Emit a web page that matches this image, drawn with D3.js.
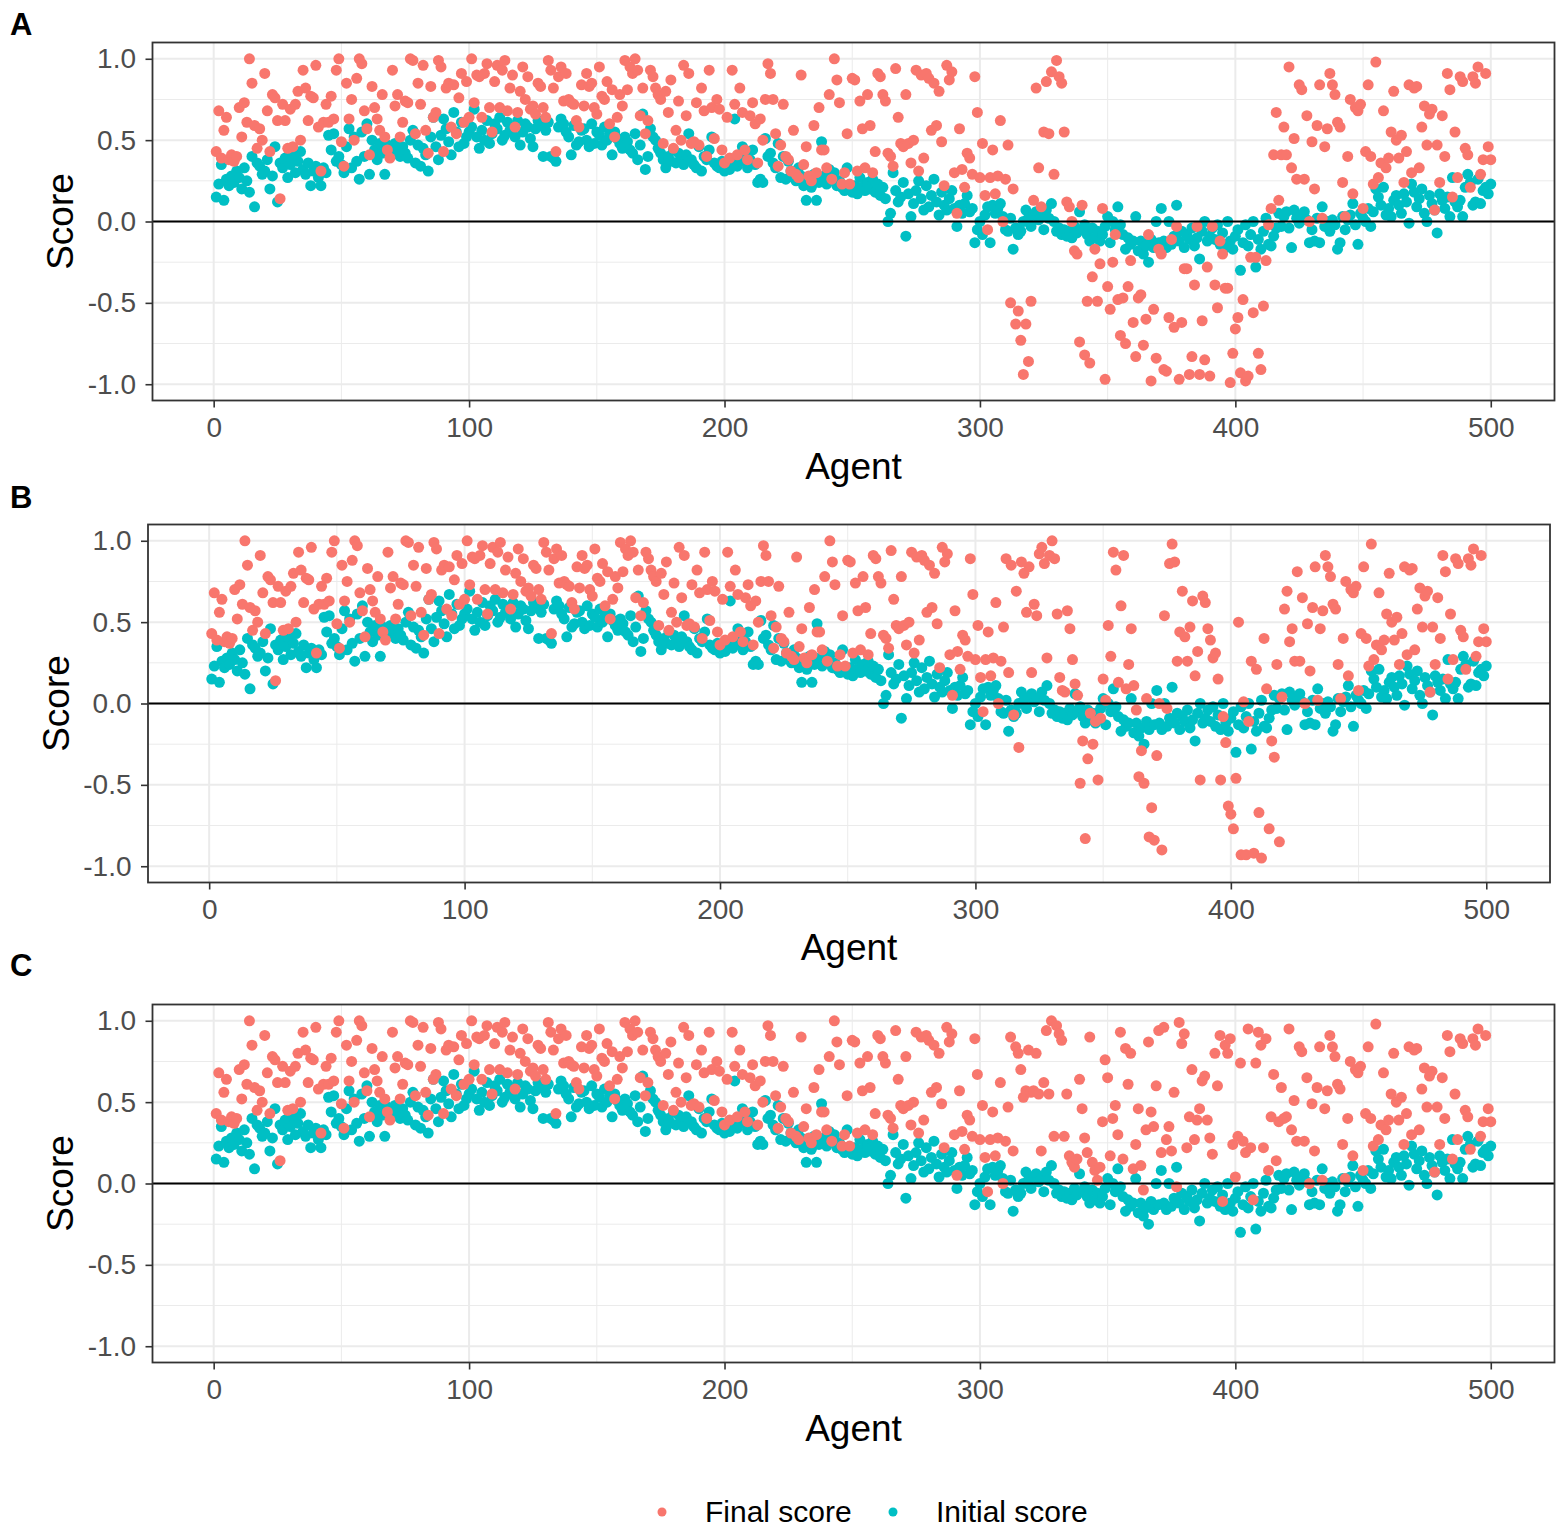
<!DOCTYPE html>
<html>
<head>
<meta charset="utf-8">
<script src="https://cdn.jsdelivr.net/npm/d3@7"></script>
<style>
body { margin: 0; background: #ffffff; }
svg text { font-family: "Liberation Sans", Arial, sans-serif; }
</style>
</head>
<body>
<svg id="chart" width="1562" height="1529"></svg>
<script>
// initial score of agents 1..500 (same in all three panels)
var initialScore = [
  0.15, 0.23, 0.35, 0.13, 0.26, 0.22, 0.28, 0.24, 0.31, 0.27,
  0.20, 0.33, 0.25, 0.18, 0.40, 0.09, 0.36, 0.34, 0.29, 0.31,
  0.38, 0.20, 0.28, 0.46, 0.12, 0.36, 0.33, 0.39, 0.27, 0.35,
  0.41, 0.30, 0.37, 0.43, 0.32, 0.29, 0.36, 0.22, 0.31, 0.34,
  0.27, 0.22, 0.33, 0.30, 0.53, 0.44, 0.54, 0.37, 0.40, 0.35,
  0.30, 0.46, 0.57, 0.33, 0.52, 0.37, 0.26, 0.55, 0.40, 0.60,
  0.29, 0.50, 0.44, 0.38, 0.48, 0.42, 0.29, 0.47, 0.44, 0.45,
  0.48, 0.43, 0.40, 0.46, 0.42, 0.39, 0.50, 0.56, 0.36, 0.47,
  0.34, 0.45, 0.41, 0.31, 0.52, 0.64, 0.46, 0.38, 0.53, 0.63,
  0.57, 0.49, 0.41, 0.67, 0.55, 0.46, 0.61, 0.48, 0.52, 0.55,
  0.58, 0.69, 0.52, 0.45, 0.56, 0.50, 0.62, 0.48, 0.54, 0.60,
  0.57, 0.64, 0.50, 0.53, 0.61, 0.56, 0.58, 0.52, 0.62, 0.47,
  0.55, 0.60, 0.58, 0.51, 0.46, 0.57, 0.62, 0.59, 0.40, 0.56,
  0.61, 0.40, 0.39, 0.37, 0.58, 0.63, 0.60, 0.55, 0.52, 0.41,
  0.59, 0.47, 0.49, 0.56, 0.57, 0.50, 0.46, 0.60, 0.48, 0.55,
  0.53, 0.47, 0.58, 0.50, 0.54, 0.41, 0.55, 0.51, 0.48, 0.45,
  0.52, 0.49, 0.44, 0.42, 0.54, 0.38, 0.47, 0.66, 0.32, 0.40,
  0.57, 0.52, 0.50, 0.45, 0.42, 0.38, 0.33, 0.40, 0.37, 0.44,
  0.36, 0.42, 0.39, 0.35, 0.41, 0.54, 0.38, 0.35, 0.33, 0.46,
  0.31, 0.40, 0.38, 0.44, 0.52, 0.36, 0.34, 0.33, 0.37, 0.31,
  0.35, 0.32, 0.36, 0.63, 0.34, 0.37, 0.46, 0.40, 0.33, 0.38,
  0.44, 0.35, 0.24, 0.26, 0.24, 0.51, 0.40, 0.42, 0.36, 0.33,
  0.48, 0.27, 0.40, 0.26, 0.37, 0.31, 0.27, 0.25, 0.33, 0.28,
  0.22, 0.13, 0.26, 0.21, 0.29, 0.13, 0.24, 0.49, 0.28, 0.23,
  0.32, 0.26, 0.30, 0.22, 0.25, 0.21, 0.19, 0.33, 0.20, 0.18,
  0.22, 0.17, 0.27, 0.21, 0.19, 0.24, 0.20, 0.26, 0.18, 0.23,
  0.16, 0.21, 0.14, 0.00, 0.05, 0.30, 0.19, 0.12, 0.15, 0.24,
  -0.09, 0.17, 0.03, 0.11, 0.19, 0.25, 0.14, 0.07, 0.22, 0.09,
  0.16, 0.26, 0.12, 0.04, 0.18, 0.10, 0.07, 0.14, 0.19, 0.08,
  -0.03, 0.10, 0.05, 0.11, 0.16, 0.06, 0.08, -0.13, -0.05, 0.00,
  -0.08, 0.04, 0.09, -0.13, 0.10, 0.05, 0.08, 0.11, 0.03, -0.05,
  -0.06, 0.02, -0.17, -0.04, -0.08, -0.06, 0.00, 0.07, 0.02, -0.03,
  0.04, 0.06, 0.01, 0.03, -0.05, 0.07, 0.02, 0.11, 0.00, -0.06,
  -0.04, -0.08, -0.05, -0.09, -0.06, -0.10, -0.03, -0.07, 0.06, -0.05,
  -0.02, -0.08, -0.12, -0.04, -0.10, -0.06, -0.12, -0.08, -0.03, 0.03,
  -0.13, 0.00, -0.05, 0.09, -0.02, -0.08, -0.17, -0.10, -0.14, -0.12,
  0.03, -0.18, -0.12, -0.20, -0.15, -0.25, -0.11, -0.16, 0.00, -0.13,
  0.08, -0.12, -0.16, 0.00, -0.14, -0.09, 0.10, -0.12, -0.06, -0.16,
  -0.08, -0.11, -0.04, -0.15, -0.10, -0.23, -0.06, 0.00, -0.12, -0.09,
  -0.04, -0.11, -0.02, -0.14, -0.07, -0.16, 0.00, -0.12, -0.17, -0.09,
  -0.05, -0.30, -0.13, -0.02, -0.15, -0.08, 0.00, -0.28, -0.11, -0.17,
  -0.06, 0.02, -0.14, -0.15, -0.09, -0.04, 0.05, -0.03, 0.03, 0.06,
  -0.04, -0.16, 0.07, 0.02, -0.01, 0.04, 0.06, 0.01, -0.13, -0.05,
  -0.12, 0.02, -0.13, 0.09, -0.03, 0.00, -0.06, 0.01, -0.02, -0.17,
  -0.13, 0.03, -0.05, 0.01, 0.04, 0.11, -0.02, -0.14, 0.05, 0.02,
  0.00, 0.08, -0.03, 0.06, 0.20, 0.15, 0.10, 0.21, 0.04, 0.08,
  0.03, 0.13, 0.16, 0.10, 0.05, 0.17, 0.12, -0.01, 0.23, 0.18,
  0.09, 0.14, 0.20, 0.05, 0.00, 0.16, 0.11, 0.07, -0.07, 0.17,
  0.13, 0.08, 0.15, 0.03, 0.27, 0.12, 0.09, 0.13, 0.03, 0.21,
  0.29, 0.24, 0.10, 0.12, 0.26, 0.11, 0.19, 0.21, 0.17, 0.23
];

// final score, agents 1..310 (shared by A, B, C)
var finalHead = [
  0.43, 0.68, 0.39, 0.56, 0.64, 0.38, 0.41, 0.37, 0.40, 0.70,
  0.52, 0.73, 0.61, 1.00, 0.85, 0.59, 0.45, 0.57, 0.50, 0.91,
  0.68, 0.43, 0.78, 0.76, 0.62, 0.14, 0.72, 0.62, 0.45, 0.69,
  0.46, 0.72, 0.80, 0.50, 0.93, 0.82, 0.62, 0.77, 0.76, 0.96,
  0.58, 0.31, 0.61, 0.72, 0.61, 0.77, 0.63, 0.93, 1.00, 0.49,
  0.34, 0.85, 0.63, 0.75, 0.50, 0.88, 1.00, 0.97, 0.68, 0.57,
  0.41, 0.83, 0.70, 0.63, 0.56, 0.78, 0.52, 0.44, 0.39, 0.93,
  0.71, 0.78, 0.52, 0.61, 0.74, 0.73, 1.00, 0.99, 0.54, 0.85,
  0.72, 0.96, 0.56, 0.42, 0.83, 0.64, 0.67, 0.99, 0.95, 0.43,
  0.82, 0.85, 0.58, 0.84, 0.54, 0.76, 0.91, 0.61, 0.86, 0.64,
  1.00, 0.73, 0.90, 0.89, 0.64, 0.91, 0.97, 0.70, 0.55, 0.86,
  0.96, 0.70, 0.93, 0.99, 0.68, 0.82, 0.90, 0.58, 0.67, 0.80,
  0.95, 0.75, 0.89, 0.69, 0.71, 0.66, 0.85, 0.83, 0.70, 0.64,
  0.99, 0.93, 0.82, 0.43, 0.89, 0.95, 0.74, 0.91, 0.75, 0.73,
  0.72, 0.62, 0.58, 0.84, 0.71, 0.91, 0.83, 0.85, 0.70, 0.66,
  0.95, 0.77, 0.75, 0.86, 0.60, 0.81, 0.52, 0.64, 0.78, 0.71,
  0.99, 0.81, 0.95, 0.91, 1.00, 0.93, 0.65, 0.82, 0.54, 0.62,
  0.93, 0.89, 0.82, 0.78, 0.75, 0.48, 0.80, 0.67, 0.87, 0.45,
  0.56, 0.74, 0.50, 0.96, 0.65, 0.91, 0.48, 0.49, 0.73, 0.47,
  0.82, 0.68, 0.40, 0.93, 0.70, 0.51, 0.75, 0.69, 0.44, 0.36,
  0.64, 0.39, 0.93, 0.72, 0.41, 0.82, 0.67, 0.44, 0.38, 0.65,
  0.73, 0.60, 0.36, 0.63, 0.50, 0.75, 0.97, 0.91, 0.75, 0.54,
  0.34, 0.47, 0.72, 0.40, 0.38, 0.31, 0.56, 0.29, 0.27, 0.90,
  0.35, 0.46, 0.28, 0.25, 0.59, 0.30, 0.70, 0.44, 0.44, 0.33,
  0.78, 0.26, 1.00, 0.87, 0.73, 0.23, 0.30, 0.54, 0.23, 0.88,
  0.87, 0.31, 0.74, 0.57, 0.33, 0.78, 0.59, 0.30, 0.43, 0.91,
  0.89, 0.78, 0.74, 0.42, 0.40, 0.34, 0.94, 0.64, 0.48, 0.46,
  0.78, 0.48, 0.36, 0.50, 0.93, 0.31, 0.90, 0.39, 0.91, 0.88,
  0.56, 0.85, 0.59, 0.80, 0.49, 0.22, 0.96, 0.87, 0.92, 0.30,
  0.05, 0.57, 0.32, 0.21, 0.42, 0.39, 0.29, 0.89, 0.67, 0.27,
  0.48, 0.16, -0.05, 0.27, 0.44, 0.17, 0.28, 0.62, 0.00, 0.26
];

// final score, agents 311..425, one list per panel
var finalMidA = [
  0.47, -0.50, 0.20, -0.63, -0.55, -0.73, -0.94, -0.63, -0.86, -0.49,
  0.13, 0.82, 0.33, 0.09, 0.55, 0.86, 0.54, 0.92, 0.29, 0.99,
  0.89, 0.85, 0.55, 0.12, 0.09, 0.00, -0.18, -0.20, -0.74, 0.10,
  -0.82, -0.49, -0.87, -0.34, -0.17, -0.49, -0.26, 0.08, -0.97, -0.40,
  -0.54, -0.25, -0.08, -0.48, -0.70, -0.47, -0.75, -0.40, -0.24, -0.62,
  -0.83, -0.47, -0.45, -0.76, -0.60, -0.08, -0.98, -0.54, -0.84, -0.17,
  -0.20, -0.91, -0.92, -0.59, -0.11, -0.65, -0.03, -0.97, -0.62, -0.29,
  -0.29, -0.94, -0.83, -0.39, -0.03, -0.94, -0.61, -0.85, -0.28, -0.95,
  -0.03, -0.39, -0.53, -0.12, -0.20, -0.41, -0.41, -0.99, -0.81, -0.66,
  -0.59, -0.93, -0.48, -0.98, -0.95, -0.22, -0.56, -0.22, -0.81, -0.91,
  -0.52, -0.24, -0.02, 0.08, 0.41, 0.67, 0.13, 0.41, 0.58, 0.41,
  0.95, 0.33, 0.51, 0.26, 0.84
];
var finalMidB = [
  0.47, 0.89, 0.19, 0.85, -0.07, 0.69, -0.27, 0.87, 0.80, 0.56,
  0.84, 0.19, 0.61, 0.54, 0.92, 0.96, 0.86, 0.28, 0.91, 1.00,
  0.89, 0.55, 0.16, 0.08, 0.07, 0.57, 0.46, 0.27, 0.12, 0.05,
  -0.49, -0.23, -0.83, -0.34, -0.06, -0.25, -0.11, -0.47, -0.09, 0.15,
  0.02, 0.48, 0.29, 0.93, 0.82, 0.13, 0.60, 0.91, 0.09, 0.24,
  0.46, 0.11, -0.04, -0.45, -0.29, -0.49, 0.03, -0.82, -0.64, -0.84,
  -0.32, 0.00, -0.90, 0.54, -0.03, 0.86, 0.98, 0.87, 0.26, 0.44,
  0.69, 0.41, 0.26, 0.47, 0.63, 0.17, 0.32, -0.47, 0.66, 0.62,
  0.46, 0.39, 0.28, 0.31, 0.15, -0.47, -0.08, -0.24, -0.63, -0.68,
  -0.77, -0.46, 0.50, -0.93, 0.01, -0.93, -0.11, 0.26, -0.92, 0.21,
  -0.67, -0.95, 0.40, 0.09, -0.77, -0.23, -0.33, 0.24, -0.85, 0.04,
  0.58, 0.69, 0.38, 0.46, 0.26
];
var finalMidC = [
  0.47, 0.90, 0.20, 0.84, 0.80, 0.70, 0.53, 0.57, 0.82, 0.56,
  0.57, 0.80, 0.55, 0.20, 0.62, 0.94, 0.55, 1.00, 0.29, 0.97,
  0.92, 0.88, 0.29, 0.55, 0.17, 0.13, 0.10, 0.15, 0.64, 0.46,
  0.28, 0.19, 0.90, 0.13, 0.08, 0.02, 0.10, 0.38, 0.76, 0.65,
  0.17, 0.40, 0.48, 0.30, 0.93, 0.15, 0.83, 0.61, 0.80, 0.09,
  0.24, 0.46, 0.11, -0.04, 0.33, 0.87, 0.44, 0.35, 0.60, 0.94,
  0.19, 0.96, 0.27, 0.35, 0.20, 0.56, -0.02, 0.99, 0.86, 0.92,
  0.22, 0.41, 0.70, 0.27, 0.39, 0.46, 0.63, 0.66, 0.39, 0.28,
  0.18, 0.80, 0.60, 0.91, -0.11, 0.85, 0.80, 0.89, 0.24, 0.04,
  0.29, 0.74, 0.26, 0.19, 0.95, 0.22, -0.10, 0.74, 0.93, 0.85,
  0.22, 0.89, 0.08, 0.41, 0.67, 0.14, 0.38, 0.59, 0.40, 0.41,
  0.95, 0.33, 0.51, 0.26, 0.84
];

// final score, agents 426..500 (shared)
var finalTail = [
  0.81, 0.26, 0.65, 0.00, 0.49,
  0.20, 0.59, 0.84, 0.02, 0.46, 0.57, 0.91, 0.84, 0.78, 0.61,
  0.58, 0.24, 0.03, 0.40, 0.75, 0.17, 0.70, 0.68, 0.72, 0.08,
  0.43, 0.84, 0.40, 0.23, 0.98, 0.27, 0.36, 0.68, 0.33, 0.39,
  0.55, 0.80, 0.50, 0.39, 0.53, 0.24, 0.43, 0.84, 0.30, 0.82,
  0.83, 0.33, 0.58, 0.71, 0.47, 0.66, 0.69, 0.07, 0.47, 0.24,
  0.65, 0.40, 0.91, 0.81, 0.15, 0.55, 0.27, 0.89, 0.86, 0.45,
  0.41, 0.21, 0.89, 0.85, 0.95, 0.29, 0.38, 0.91, 0.46, 0.38
];

var xTicks = [0, 100, 200, 300, 400, 500];
var xMinor = [50, 150, 250, 350, 450];
var yTicks = [-1, -0.5, 0, 0.5, 1];
var yMinor = [-0.75, -0.25, 0.25, 0.75];
var seriesNames = ["Final score", "Initial score"];
var seriesColours = ["#F8766D", "#00BFC4"];

var svg = d3.select("#chart");
var agents = d3.range(1, initialScore.length + 1);

var panels = [
  {label: "A", mid: finalMidA, left: 152.5, top: 42.5, labelY: 35, titleY: 479, scoreX: 73},
  {label: "B", mid: finalMidB, left: 148, top: 524.5, labelY: 508, titleY: 960, scoreX: 69},
  {label: "C", mid: finalMidC, left: 152.5, top: 1004.5, labelY: 976, titleY: 1441, scoreX: 73}
];
var panelW = 1402, panelH = 358;
var pointR = 5.5;

function styleAxis(sel) {
	sel.attr("font-size", null).attr("font-family", null);
	sel.select(".domain").remove();
	sel.selectAll(".tick line").attr("stroke", "#333333").attr("stroke-width", 1.6);
	sel.selectAll(".tick text")
		.attr("fill", "#4D4D4D")
		.style("font-size", "28px");
}

panels.forEach(function(p) {
	var finals = finalHead.concat(p.mid, finalTail);
	var bottom = p.top + panelH;

	var x = d3.scaleLinear().domain([-23.95, 524.95]).range([p.left, p.left + panelW]);
	var y = d3.scaleLinear().domain([-1.1, 1.1]).range([bottom, p.top]);

	var g = svg.append("g");

	g.selectAll(".vminor").data(xMinor).enter().append("line")
		.attr("x1", function(d) { return x(d); })
		.attr("x2", function(d) { return x(d); })
		.attr("y1", p.top).attr("y2", bottom)
		.attr("stroke", "#EBEBEB").attr("stroke-width", 1);
	g.selectAll(".hminor").data(yMinor).enter().append("line")
		.attr("y1", function(d) { return y(d); })
		.attr("y2", function(d) { return y(d); })
		.attr("x1", p.left).attr("x2", p.left + panelW)
		.attr("stroke", "#EBEBEB").attr("stroke-width", 1);
	g.selectAll(".vmajor").data(xTicks).enter().append("line")
		.attr("x1", function(d) { return x(d); })
		.attr("x2", function(d) { return x(d); })
		.attr("y1", p.top).attr("y2", bottom)
		.attr("stroke", "#EBEBEB").attr("stroke-width", 2);
	g.selectAll(".hmajor").data(yTicks).enter().append("line")
		.attr("y1", function(d) { return y(d); })
		.attr("y2", function(d) { return y(d); })
		.attr("x1", p.left).attr("x2", p.left + panelW)
		.attr("stroke", "#EBEBEB").attr("stroke-width", 2);

	g.append("g").selectAll("circle")
		.data(agents)
		.enter()
		.append("circle")
		.attr("cx", function(d) { return x(d); })
		.attr("cy", function(d, i) { return y(initialScore[i]); })
		.attr("r", pointR)
		.attr("fill", seriesColours[1]);

	g.append("g").selectAll("circle")
		.data(agents)
		.enter()
		.append("circle")
		.attr("cx", function(d) { return x(d); })
		.attr("cy", function(d, i) { return y(finals[i]); })
		.attr("r", pointR)
		.attr("fill", seriesColours[0]);

	g.append("line")
		.attr("x1", p.left).attr("x2", p.left + panelW)
		.attr("y1", y(0)).attr("y2", y(0))
		.attr("stroke", "#000000").attr("stroke-width", 2.2);

	g.append("rect")
		.attr("x", p.left).attr("y", p.top)
		.attr("width", panelW).attr("height", panelH)
		.attr("fill", "none").attr("stroke", "#333333").attr("stroke-width", 1.8);

	g.append("g")
		.attr("transform", "translate(0," + bottom + ")")
		.call(d3.axisBottom(x).tickValues(xTicks).tickSize(7).tickPadding(9.5).tickFormat(d3.format("d")))
		.call(styleAxis);

	g.append("g")
		.attr("transform", "translate(" + p.left + ",0)")
		.call(d3.axisLeft(y).tickValues(yTicks).tickSize(7).tickPadding(9.5)
			.tickFormat(function(d) { return d.toFixed(1); }))
		.call(styleAxis);

	g.append("text")
		.attr("x", p.left + panelW / 2).attr("y", p.titleY)
		.attr("text-anchor", "middle")
		.style("font-size", "37px")
		.text("Agent");

	g.append("text")
		.attr("transform", "translate(" + p.scoreX + "," + (p.top + panelH / 2) + ") rotate(-90)")
		.attr("text-anchor", "middle")
		.style("font-size", "37px")
		.text("Score");

	g.append("text")
		.attr("x", 10).attr("y", p.labelY)
		.style("font-size", "31px").style("font-weight", "bold")
		.text(p.label);
});

var legendX = [662, 893];
var legend = svg.append("g").selectAll("g")
	.data(seriesNames)
	.enter()
	.append("g")
	.attr("transform", function(d, i) { return "translate(" + legendX[i] + ",1512)"; });

legend.append("circle")
	.attr("r", 4.5)
	.attr("fill", function(d, i) { return seriesColours[i]; });

legend.append("text")
	.attr("x", 43).attr("y", 10)
	.style("font-size", "30px")
	.text(function(d) { return d; });
</script>
</body>
</html>
